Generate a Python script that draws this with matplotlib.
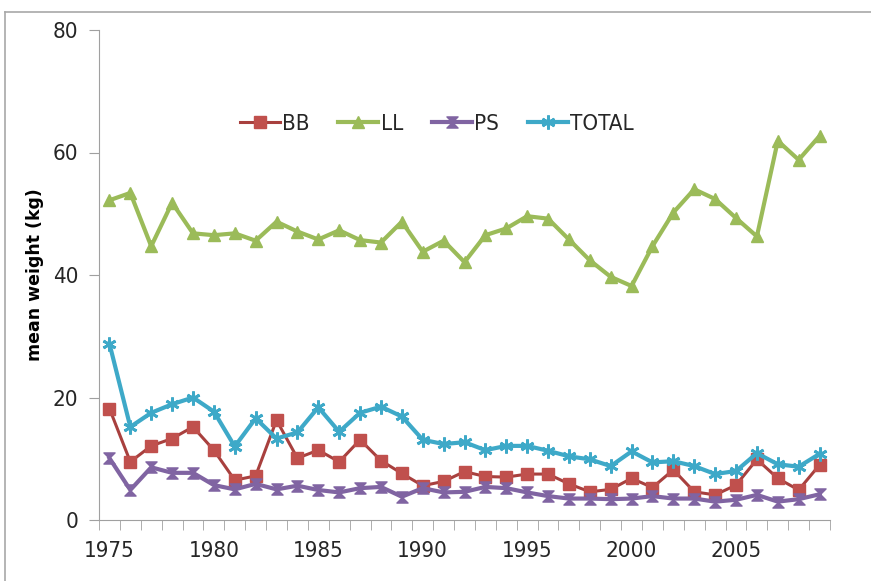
import numpy as np
import matplotlib
matplotlib.use('Agg')
import matplotlib.pyplot as plt
from matplotlib.lines import Line2D
from matplotlib.path import Path

plt.rcParams['font.family'] = ['DejaVu Sans']
plt.rcParams['font.stretch'] = 'condensed'

years = list(range(1975, 2010))
bb = [18.2, 9.5, 12.1, 13.3, 15.2, 11.4, 6.5, 7.2, 16.3, 10.1,
      11.4, 9.5, 13.1, 9.7, 7.6, 5.6, 6.3, 7.9, 7.1, 7.0,
      7.5, 7.5, 5.9, 4.6, 5.0, 6.8, 5.3, 8.2, 4.6, 4.1,
      5.7, 9.9, 6.8, 4.9, 9.0]
ll = [52.2, 53.4, 44.7, 51.8, 46.8, 46.5, 46.8, 45.6, 48.7, 47.1,
      45.8, 47.3, 45.7, 45.3, 48.7, 43.8, 45.6, 42.1, 46.5, 47.6,
      49.6, 49.2, 45.8, 42.4, 39.7, 38.2, 44.7, 50.2, 54.0, 52.4,
      49.3, 46.3, 61.9, 58.8, 62.7]
ps = [10.1, 4.9, 8.6, 7.7, 7.7, 5.7, 5.0, 5.9, 5.0, 5.6,
      4.9, 4.5, 5.2, 5.4, 3.8, 5.2, 4.5, 4.6, 5.4, 5.2,
      4.5, 3.9, 3.5, 3.5, 3.4, 3.5, 3.9, 3.5, 3.5, 3.0,
      3.3, 4.1, 3.0, 3.4, 4.2]
total = [28.8, 15.2, 17.5, 18.9, 20.0, 17.7, 12.0, 16.6, 13.3, 14.3,
         18.4, 14.4, 17.5, 18.5, 16.9, 13.1, 12.4, 12.7, 11.4, 12.1,
         12.1, 11.3, 10.4, 9.9, 8.8, 11.2, 9.4, 9.6, 8.8, 7.5,
         8.0, 10.9, 9.1, 8.7, 10.8]

# hourglass marker for PS
hourglass = Path([(-1, 1), (1, 1), (-1, -1), (1, -1), (-1, 1)],
                 [Path.MOVETO, Path.LINETO, Path.LINETO, Path.LINETO, Path.CLOSEPOLY])

fig = plt.figure(figsize=(8.71, 5.81), dpi=100)
ax = fig.add_axes([99 / 871, 1 - 520 / 581, 731 / 871, 490 / 581])

ax.plot(years, bb, color='#A8403E', lw=2.2, marker='s', ms=8,
        mfc='#C0504D', mec='#C0504D', label='BB')
ax.plot(years, ll, color='#9BBB59', lw=3, marker='^', ms=9,
        mfc='#9BBB59', mec='#9BBB59', label='LL')
ax.plot(years, ps, color='#8064A2', lw=3, marker=hourglass, ms=8,
        mfc='#8064A2', mec='#8064A2', label='PS')
ax.plot(years, total, color='#3EA9C8', lw=3, marker=(6, 2, 0), ms=10,
        mew=2, mec='#3EA9C8', label='TOTAL')

ax.set_xlim(1974.5, 2009.5)
ax.set_ylim(0, 80)
ax.set_yticks([0, 20, 40, 60, 80])
ax.set_xticks(np.arange(1974.5, 2010, 1), minor=True)
ax.set_xticks(range(1975, 2010, 5))
ax.tick_params(axis='x', which='major', length=0, pad=15, labelsize=16, labelcolor='#262626')
ax.tick_params(axis='x', which='minor', length=7, color='#A0A0A0', direction='out')
ax.tick_params(axis='y', length=7, color='#A0A0A0', labelsize=16, pad=8, labelcolor='#262626')
for s in ['top', 'right']:
    ax.spines[s].set_visible(False)
for s in ['left', 'bottom']:
    ax.spines[s].set_color('#A0A0A0')

ax.set_ylabel('mean weight (kg)', family=['DejaVu Sans'], stretch='normal',
              fontweight='bold', fontsize=12.5, labelpad=6)

ax.legend(loc='center', bbox_to_anchor=(0.462, 0.808), ncol=4, frameon=False,
          fontsize=16, handlelength=1.8, handletextpad=0.1, columnspacing=1.3,
          labelcolor='#262626')

fig.add_artist(Line2D([5 / 871, 1], [1 - 12 / 581, 1 - 12 / 581], color='#A8A8A8', lw=1.2))
fig.add_artist(Line2D([5 / 871, 5 / 871], [0, 1 - 12 / 581], color='#A8A8A8', lw=1.2))

fig.savefig('out.png', dpi=100)
